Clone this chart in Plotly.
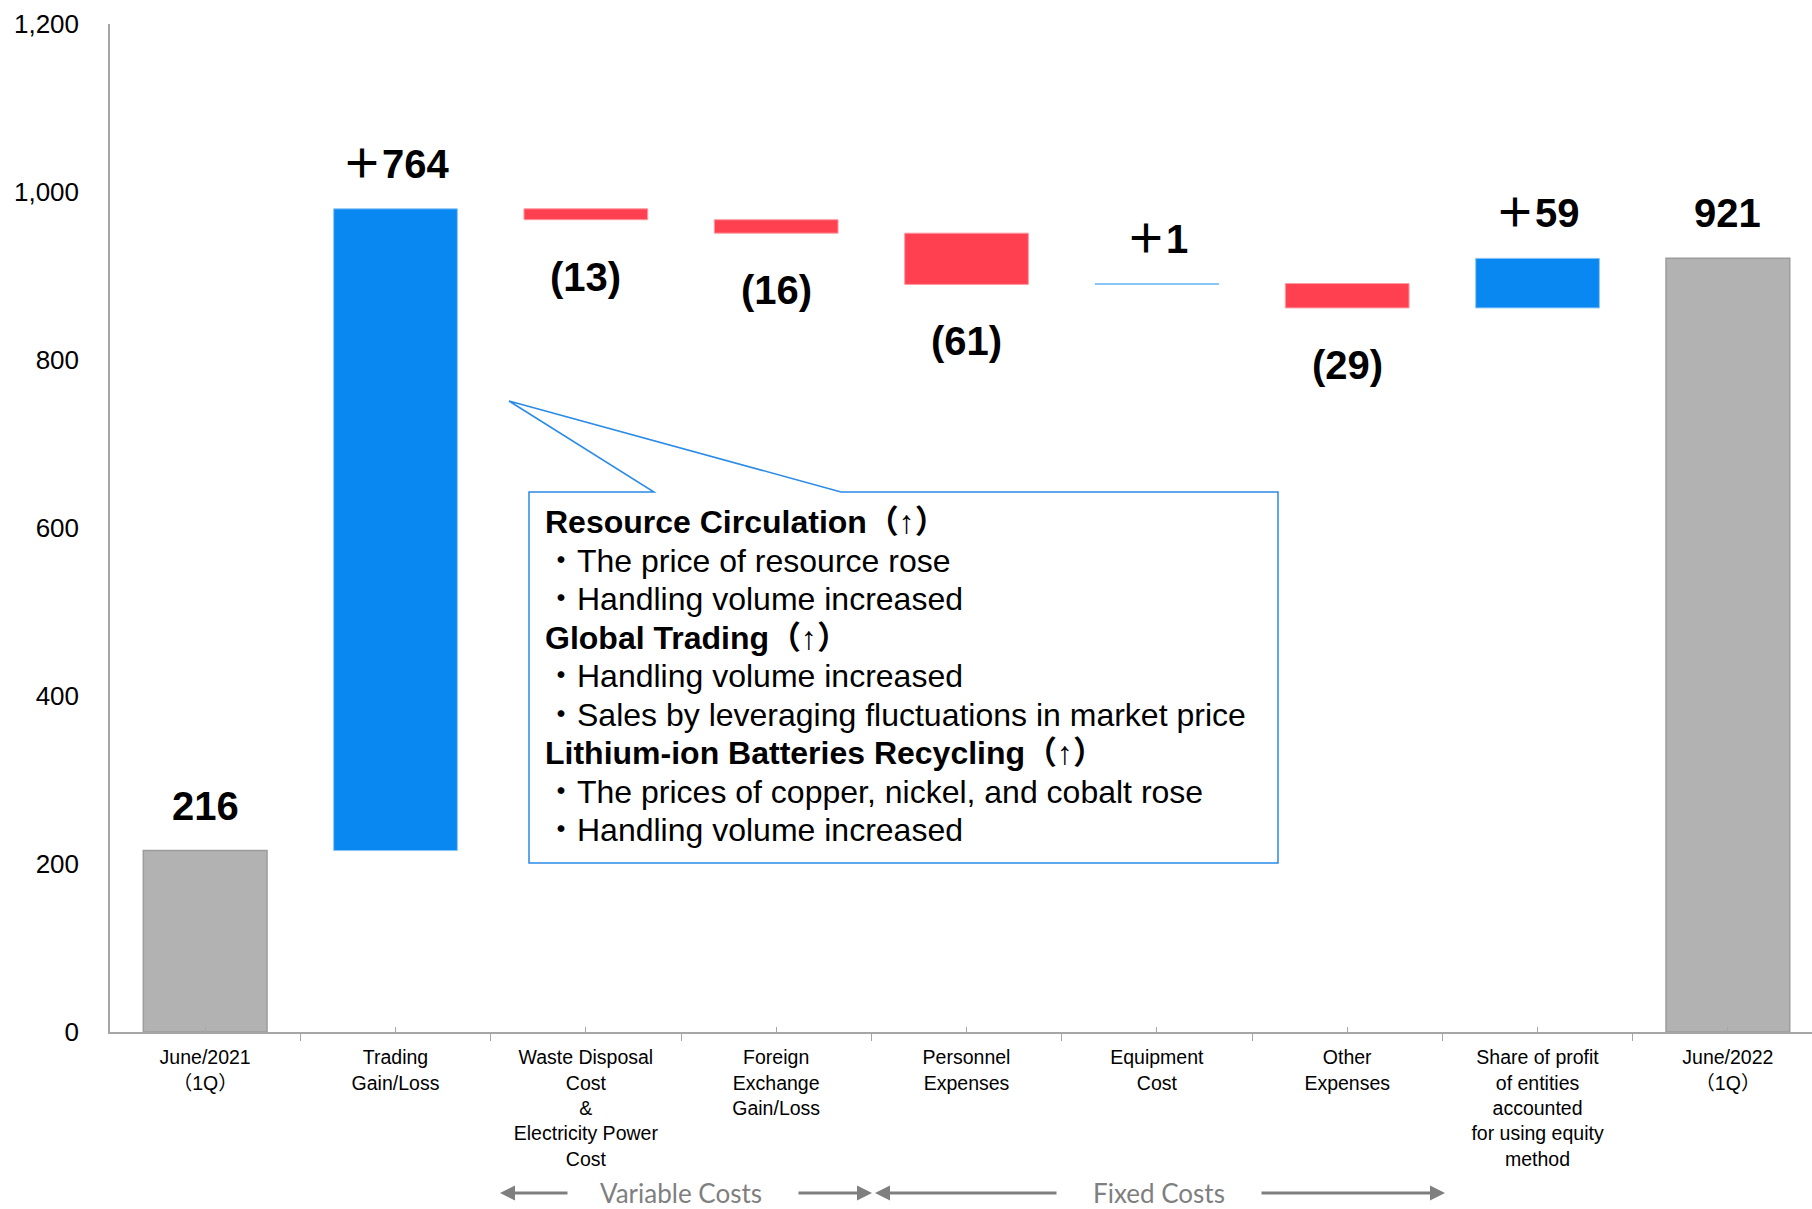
import plotly.graph_objects as go

# ---- data ----
categories = [
    "June/2021<br>（1Q）",
    "Trading<br>Gain/Loss",
    "Waste Disposal<br>Cost<br>&amp;<br>Electricity Power<br>Cost",
    "Foreign<br>Exchange<br>Gain/Loss",
    "Personnel<br>Expenses",
    "Equipment<br>Cost",
    "Other<br>Expenses",
    "Share of profit<br>of entities<br>accounted<br>for using equity<br>method",
    "June/2022<br>（1Q）",
]
measures = ["absolute", "relative", "relative", "relative", "relative",
            "relative", "relative", "relative", "total"]
values = [216, 764, -13, -16, -61, 1, -29, 59, 0]

y_ticks = [0, 200, 400, 600, 800, 1000, 1200]

callout_lines = [
    ("Resource Circulation", True),
    ("・The price of resource rose", False),
    ("・Handling volume increased", False),
    ("Global Trading", True),
    ("・Handling volume increased", False),
    ("・Sales by leveraging fluctuations in market price", False),
    ("Lithium-ion Batteries Recycling", True),
    ("・The prices of copper, nickel, and cobalt rose", False),
    ("・Handling volume increased", False),
]

# ---- styling ----
BLUE = "#0A88F2"
BLUE_EDGE = "#8CC6F6"
RED = "#FF4050"
RED_EDGE = "#FF9AA2"
GRAY = "#B2B2B2"
AXIS = "#A6A6A6"
CALLOUT = "#2A8BE6"
FONT = "Liberation Sans, Arial, Noto Sans CJK JP, sans-serif"

W, H = 1812, 1209
ML, MR, MT, MB = 110, 0, 24, 177
PLOT_W = W - ML - MR
PLOT_H = H - MT - MB
X_RANGE = [-0.5, 8.442]


def px(x):
    return (x - ML) / PLOT_W


def py(y):
    return (H - MB - y) / PLOT_H


x_pos = list(range(len(categories)))

fig = go.Figure()
fig.add_trace(go.Waterfall(
    x=x_pos,
    y=values,
    measure=measures,
    width=0.65,
    increasing=dict(marker=dict(color=BLUE, line=dict(color=BLUE_EDGE, width=1))),
    decreasing=dict(marker=dict(color=RED, line=dict(color=RED_EDGE, width=1))),
    totals=dict(marker=dict(color=GRAY, line=dict(color="#9C9C9C", width=1.5))),
    connector=dict(visible=False),
    hoverinfo="skip",
    showlegend=False,
))

# value labels above / below each bar
annotations = []
running = 0
for i, (m, v) in enumerate(zip(measures, values)):
    if m == "absolute":
        running = v
        text, end, above = f"{v}", running, True
    elif m == "total":
        text, end, above = f"{running}", running, True
    else:
        running += v
        if v >= 0:
            text, end, above = f"＋{v}", running, True
        else:
            text, end, above = f"({-v})", running, False
    annotations.append(dict(
        x=i, y=end, xref="x", yref="y", text=f"<b>{text}</b>",
        showarrow=False, yanchor="middle",
        yshift=45 if above else -57,
        font=dict(family=FONT, size=40, color="black"),
    ))

# callout text
first_y, step = 522, 38.5
for k, (line, bold) in enumerate(callout_lines):
    txt = f"<b>{line}</b><b>（↑）</b>" if bold else line
    annotations.append(dict(
        x=px(543), y=py(first_y + k * step), xref="paper", yref="paper",
        text=txt, showarrow=False, xanchor="left", yanchor="middle",
        font=dict(family=FONT, size=32, color="black"),
    ))

# cost group markers under the axis
ARROW_Y = 1193
GRAY_TXT = "#7F7F7F"
for head, tail in [(500, 569), (872, 797), (875, 1058), (1445, 1260)]:
    annotations.append(dict(
        x=px(head), y=py(ARROW_Y), xref="paper", yref="paper",
        ax=tail - head, ay=0, text="", showarrow=True,
        arrowhead=2, arrowsize=1, arrowwidth=3, arrowcolor=GRAY_TXT,
        standoff=0, startstandoff=0,
    ))
for label, cx in [("Variable Costs", 681), ("Fixed Costs", 1159)]:
    annotations.append(dict(
        x=px(cx), y=py(1193), xref="paper", yref="paper", text=label,
        showarrow=False, xanchor="center", yanchor="middle",
        font=dict(family="Lato, Open Sans, sans-serif", size=26, color=GRAY_TXT),
    ))

# callout box with pointer toward the trading bar
box_l, box_t, box_r, box_b = 529, 492, 1278, 863
tip = (509, 401)
b1, b2 = 654, 841
path = (
    f"M {px(box_l)},{py(box_t)} L {px(b1)},{py(box_t)} "
    f"L {px(tip[0])},{py(tip[1])} L {px(b2)},{py(box_t)} "
    f"L {px(box_r)},{py(box_t)} L {px(box_r)},{py(box_b)} "
    f"L {px(box_l)},{py(box_b)} Z"
)
shapes = [dict(type="path", path=path, xref="paper", yref="paper",
               fillcolor="white", line=dict(color=CALLOUT, width=1.5),
               layer="above")]

fig.update_layout(
    width=W, height=H,
    margin=dict(l=ML, r=MR, t=MT, b=MB, pad=0),
    plot_bgcolor="white", paper_bgcolor="white",
    annotations=annotations,
    shapes=shapes,
    font=dict(family=FONT, color="black"),
    xaxis=dict(
        range=X_RANGE,
        tickmode="array", tickvals=x_pos, ticktext=categories,
        ticks="inside", ticklen=5, tickwidth=1.2, tickcolor=AXIS,
        minor=dict(tickmode="array", tickvals=[i - 0.5 for i in range(len(categories) + 1)],
                   ticks="outside", ticklen=7, tickwidth=1.2, tickcolor=AXIS),
        showline=True, linecolor=AXIS, linewidth=1.5,
        showgrid=False, zeroline=False,
        tickfont=dict(family=FONT, size=19.5, color="black"),
        ticklabelstandoff=7,
        fixedrange=True,
    ),
    yaxis=dict(
        range=[0, 1200],
        tickmode="array", tickvals=y_ticks,
        ticktext=[f"{t:,}" for t in y_ticks],
        ticks="", showline=True, linecolor=AXIS, linewidth=1.5,
        showgrid=False, zeroline=False,
        tickfont=dict(family=FONT, size=26, color="black"),
        ticklabelstandoff=24,
        fixedrange=True,
    ),
)

fig.write_html("out.html")
